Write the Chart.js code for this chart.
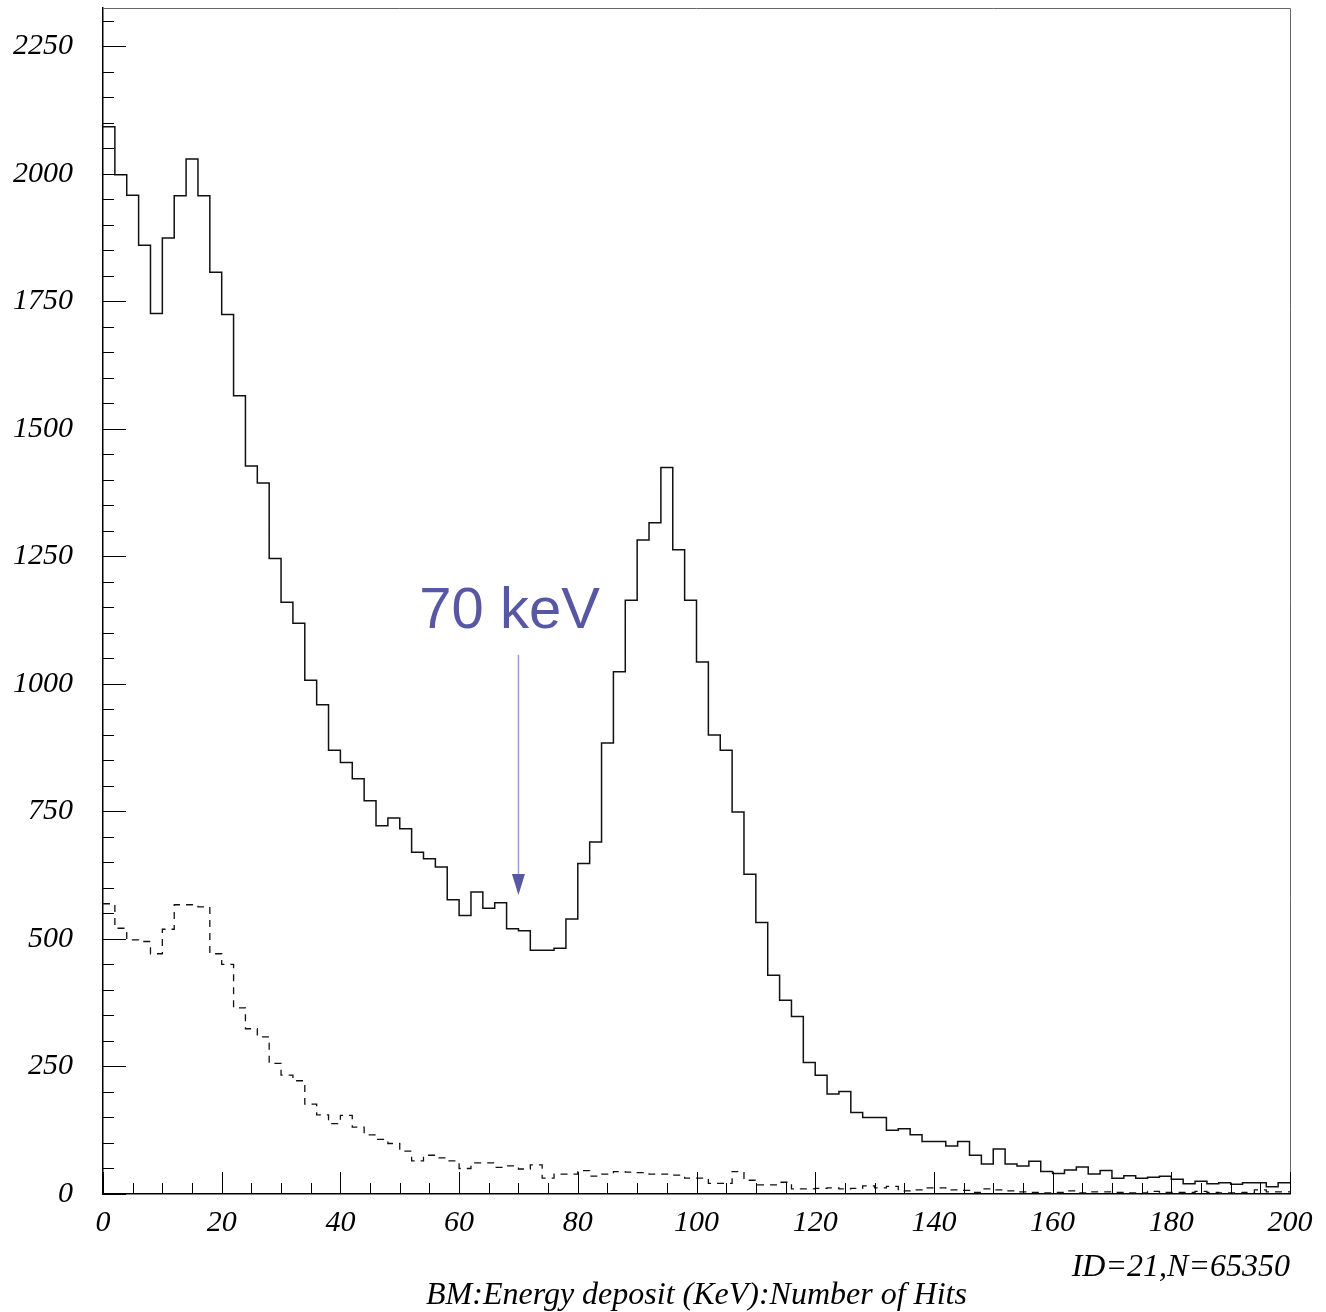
<!DOCTYPE html>
<html>
<head>
<meta charset="utf-8">
<script src="https://cdn.jsdelivr.net/npm/chart.js@4.4.1/dist/chart.umd.min.js"></script>
<style>
  html, body { margin: 0; padding: 0; background: #fff; }
  canvas { display: block; }
</style>
</head>
<body>
<canvas id="hist" width="1326" height="1312"></canvas>
<script>
// --- datos del histograma (bins de 2 keV, 0..200) ---
const BIN_WIDTH = 2;
const binLow = Array.from({ length: 100 }, (_, i) => i * BIN_WIDTH);

// curva continua (todos los hits)
const hitsAll = [
  2092, 1998, 1958, 1860, 1726, 1874, 1957, 2029, 1957, 1807,
  1724, 1565, 1427, 1394, 1246, 1160, 1119, 1007,  959,  870,
   846,  814,  771,  722,  737,  716,  670,  657,  641,  577,
   546,  592,  560,  571,  520,  516,  478,  478,  482,  539,
   648,  690,  884, 1024, 1164, 1282, 1316, 1424, 1263, 1164,
  1043,  900,  870,  749,  627,  532,  429,  380,  348,  258,
   233,  196,  201,  160,  150,  150,  125,  128,  116,  103,
   103,   94,  103,   76,   59,   88,   59,   55,   64,   44,
    40,   47,   53,   39,   46,   31,   36,   31,   33,   35,
    29,   20,   25,   20,   22,   19,   22,   22,   14,   22
];

// curva a trazos
const hitsDashed = [
  569, 521, 498, 495, 471, 519, 567, 567, 563, 471,
  450, 365, 324, 308, 256, 233, 222, 176, 155, 138,
  154, 131, 116, 107,  99,  84,  65,  76,  71,  65,
   50,  61,  61,  52,  55,  49,  57,  31,  39,  39,
   46,  35,  39,  44,  43,  42,  39,  39,  37,  31,
   31,  21,  21,  44,  27,  18,  18,  23,  10,  10,
   11,  12,  10,  11,  16,  12,  15,   6,   8,  12,
   12,   8,   7,   3,  10,   8,   6,   4,   3,   2,
    3,   6,   2,   4,   4,   3,   2,   2,   5,   3,
    3,   3,   5,   3,   2,   2,   3,   8,   4,   4
];

const xTicks = [0, 20, 40, 60, 80, 100, 120, 140, 160, 180, 200];
const yTicks = [0, 250, 500, 750, 1000, 1250, 1500, 1750, 2000, 2250];
const Y_MAX = 2325;

// anotación "70 keV"
const markLabel = '70 keV';
const markAt = 70;
const markFrom = 1057;
const markTo = 586;

// convierte bins a puntos escalonados (borde inferior + cierre en 200)
function toSteps(values) {
  const pts = values.map((v, i) => ({ x: binLow[i], y: v }));
  pts.push({ x: binLow[binLow.length - 1] + BIN_WIDTH, y: values[values.length - 1] });
  return pts;
}

const serif = { family: '"Liberation Serif", "DejaVu Serif", serif', style: 'italic', size: 30 };

// marco, ticks interiores y textos extra
const paperPlugin = {
  id: 'paper',
  afterDraw(chart) {
    const { ctx, chartArea: a, scales: { x, y } } = chart;
    ctx.save();
    // marco superior / derecho
    ctx.strokeStyle = '#666';
    ctx.lineWidth = 1;
    ctx.beginPath();
    ctx.moveTo(a.left, a.top + 0.5);
    ctx.lineTo(a.right + 0.5, a.top + 0.5);
    ctx.lineTo(a.right + 0.5, a.bottom);
    ctx.stroke();

    // ticks hacia dentro
    ctx.strokeStyle = '#000';
    ctx.beginPath();
    for (let v = 0; v <= 200; v += 5) {
      const px = Math.round(x.getPixelForValue(v)) + 0.5;
      const len = v % 20 === 0 ? 22 : 11;
      ctx.moveTo(px, a.bottom);
      ctx.lineTo(px, a.bottom - len);
    }
    for (let v = 0; v <= Y_MAX; v += 50) {
      const py = Math.round(y.getPixelForValue(v)) + 0.5;
      const len = v % 250 === 0 ? 23 : 11;
      ctx.moveTo(a.left, py);
      ctx.lineTo(a.left + len, py);
    }
    ctx.stroke();

    // flecha de la anotación
    const ax = x.getPixelForValue(markAt);
    const y0 = y.getPixelForValue(markFrom);
    const y1 = y.getPixelForValue(markTo);
    ctx.strokeStyle = '#9d9dd0';
    ctx.lineWidth = 1.5;
    ctx.beginPath();
    ctx.moveTo(ax, y0);
    ctx.lineTo(ax, y1 - 18);
    ctx.stroke();
    ctx.fillStyle = '#5757a3';
    ctx.beginPath();
    ctx.moveTo(ax - 6.5, y1 - 21);
    ctx.lineTo(ax + 6.5, y1 - 21);
    ctx.lineTo(ax, y1);
    ctx.closePath();
    ctx.fill();

    ctx.font = '58px "Liberation Sans", Arial, sans-serif';
    ctx.textAlign = 'center';
    ctx.textBaseline = 'alphabetic';
    ctx.fillText(markLabel, x.getPixelForValue(68.5), y.getPixelForValue(1110));

    // identificador
    ctx.fillStyle = '#000';
    ctx.font = 'italic 32px "Liberation Serif", serif';
    ctx.textAlign = 'right';
    ctx.fillText('ID=21,N=65350', a.right, 1276);
    ctx.restore();
  }
};

new Chart(document.getElementById('hist'), {
  type: 'line',
  data: {
    datasets: [
      {
        label: 'Hits',
        data: toSteps(hitsAll),
        stepped: 'before',
        borderColor: '#111',
        borderWidth: 1.5,
        pointRadius: 0,
        fill: false
      },
      {
        label: 'Hits (dashed)',
        data: toSteps(hitsDashed),
        stepped: 'before',
        borderColor: '#111',
        borderWidth: 1.3,
        borderDash: [7, 6],
        pointRadius: 0,
        fill: false
      }
    ]
  },
  options: {
    responsive: false,
    animation: false,
    layout: { padding: { top: 8, right: 36, left: 0, bottom: 0 } },
    plugins: { legend: { display: false }, tooltip: { enabled: false } },
    scales: {
      x: {
        type: 'linear',
        min: 0,
        max: 200,
        afterBuildTicks: s => { s.ticks = xTicks.map(v => ({ value: v })); },
        afterFit: s => { s.height = 118; s.paddingLeft = 0; s.paddingRight = 0; },
        grid: { display: false, drawTicks: false },
        border: { color: '#000', width: 1.5 },
        ticks: { font: serif, color: '#000', padding: 11, maxRotation: 0, autoSkip: false, callback: v => String(v) },
        title: {
          display: true,
          text: 'BM:Energy deposit (KeV):Number of Hits',
          font: { family: '"Liberation Serif", serif', style: 'italic', size: 32, lineHeight: 1.0 },
          color: '#000',
          padding: { top: 0, bottom: 0 }
        }
      },
      y: {
        min: 0,
        max: Y_MAX,
        afterBuildTicks: s => { s.ticks = yTicks.map(v => ({ value: v })); },
        afterFit: s => { s.width = 103; s.paddingTop = 0; s.paddingBottom = 0; },
        grid: { display: false, drawTicks: false },
        border: { color: '#000', width: 1.5 },
        ticks: { font: serif, color: '#000', padding: 30, autoSkip: false, callback: v => String(v) }
      }
    }
  },
  plugins: [paperPlugin]
});
</script>
</body>
</html>
